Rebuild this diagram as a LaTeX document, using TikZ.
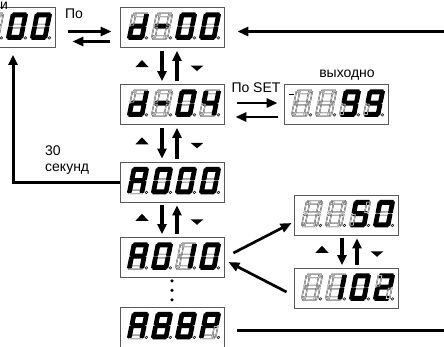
\documentclass[tikz,border=0pt]{standalone}
\usepackage{fontspec}
\setmainfont{Liberation Sans}
\usetikzlibrary{arrows.meta,positioning,calc}

\tikzset{
  dispbox/.style={draw=black!65,line width=0.8pt,minimum width=104pt,minimum height=40pt,inner sep=0pt},
  segon/.style={fill=black,draw=black,line width=1.3pt,line join=round},
  segoff/.style={draw=black!85,line width=0.35pt,double=white,double distance=0.5pt},
  segdot/.style={draw=black,line width=0.5pt},
  bigflow/.style={line width=3pt},
  navarrow/.style={line width=3.3pt,-{Triangle[length=10pt,width=9pt]}},
  pairarrow/.style={line width=2.7pt,-{Triangle[length=11pt,width=9pt]}},
  note/.style={font=\fontsize{14}{16}\selectfont,inner sep=0pt}
}

\makeatletter
% one slanted seven segment digit: top left corner, lit segments
\newcommand\segdigit[2]{%
  \begin{scope}[shift={#1},xslant=0.2]
    \foreach \sg/\xa/\ya/\xb/\yb in {a/1.5/0/14.5/3.5,g/1.5/11.25/14.5/14.75,d/1.5/22.5/14.5/26,
        f/0/1.5/3.5/12,e/0/14/3.5/24.5,b/12.5/1.5/16/12,c/12.5/14/16/24.5}{%
      \expandafter\in@\expandafter{\sg}{#2}%
      \ifin@
        \filldraw[segon] (\xa,\ya) -- (\xb,\ya) -- (\xb,\yb) -- (\xa,\yb) -- cycle;
      \else
        \draw[segoff] (\xa,\ya) -- (\xb,\ya) -- (\xb,\yb) -- (\xa,\yb) -- cycle;
      \fi}
    \draw[segdot] (18.8,24.8) circle[radius=1.3pt];
  \end{scope}}
\makeatother

% four digits inside a display box
\newcommand\showdisp[5]{%
  \segdigit{($(#1.north west)+(13,6)$)}{#2}
  \segdigit{($(#1.north west)+(37,6)$)}{#3}
  \segdigit{($(#1.north west)+(61,6)$)}{#4}
  \segdigit{($(#1.north west)+(85,6)$)}{#5}}

% up/down arrows with the two small key marks between two boxes
\newcommand\navpair[3]{%
  \draw[navarrow] ([xshift=#3-10pt,yshift=-3pt]#1.south) -- ([xshift=#3-10pt,yshift=3pt]#2.north);
  \draw[navarrow] ([xshift=#3+5pt,yshift=3pt]#2.north) -- ([xshift=#3+5pt,yshift=-3pt]#1.south);
  \coordinate (mid) at ($(#1.south)!0.5!(#2.north)$);
  \fill ([xshift=#3-30pt,yshift=6pt]mid) -- ++(6.5,7) -- ++(-13,0) -- cycle;
  \fill ([xshift=#3+25pt,yshift=-5pt]mid) -- ++(6.5,-5.5) -- ++(-13,0) -- cycle;}

\begin{document}
\begin{tikzpicture}[x=1pt,y=-1pt]
  \useasboundingbox (0,0) rectangle (444,346);
  \fill[white] (0,0) rectangle (444,346);
  \clip (0,0) rectangle (444,346);

  % display boxes
  \node[dispbox] (d1) at (3,27.5) {};
  \node[dispbox] (d2) at (172,27.5) {};
  \node[dispbox] (d3) at (172,104.5) {};
  \node[dispbox] (d4) at (336,104.5) {};
  \node[dispbox] (d5) at (172,182) {};
  \node[dispbox] (d6) at (172,257.5) {};
  \node[dispbox] (d7) at (172,327) {};
  \node[dispbox] (d8) at (346,215) {};
  \node[dispbox] (d9) at (346,288.5) {};

  \showdisp{d1}{}{}{abcdef}{abcdef}
  \showdisp{d2}{bcdeg}{g}{abcdef}{abcdef}
  \showdisp{d3}{bcdeg}{g}{abcdef}{bcfg}
  \showdisp{d4}{}{}{abcdfg}{abcdfg}
  \showdisp{d5}{abcefg}{abcdef}{abcdef}{abcdef}
  \showdisp{d6}{abcefg}{abcdef}{bc}{abcdef}
  \showdisp{d7}{abcefg}{abcdefg}{abcdefg}{abefg}
  \showdisp{d8}{}{}{acdfg}{abcdef}
  \showdisp{d9}{}{bc}{abcdef}{abdeg}
  \draw[line width=0.8pt] ([xshift=5pt,yshift=-10.5pt]d4.north west) -- ++(5,0);

  % texts
  \node[note] (t0) at (4,6) {и};
  \node[note] (t1) at (74,14) {По};
  \node[note] (t2) at (256,88) {По SET};
  \node[note] (t3) at (347,75) {выходно};
  \node[note,align=left,anchor=west] (t4) at (45,160) {30\\секунд};

  % connectors
  \draw[pairarrow] ([xshift=13pt,yshift=-4pt]d1.east) -- ([xshift=-8pt,yshift=-4pt]d2.west);
  \draw[pairarrow] ([xshift=-10pt,yshift=-14pt]d2.west) -- ([xshift=17pt,yshift=-14pt]d1.east);
  \draw[pairarrow] ([xshift=13pt,yshift=1.5pt]d3.east) -- ([xshift=-6pt,yshift=1.5pt]d4.west);
  \draw[pairarrow] ([xshift=-6pt,yshift=-12.5pt]d4.west) -- ([xshift=11pt,yshift=-12.5pt]d3.east);

  \coordinate (topin) at (444,31.5);
  \coordinate (botout) at (444,330);
  \draw[bigflow,-{Triangle[length=11pt,width=9pt]}] (topin) -- ([xshift=13pt,yshift=-4pt]d2.east);
  \draw[bigflow] ([xshift=13pt,yshift=-3pt]d7.east) -- (botout);
  \draw[bigflow,-{Triangle[length=10pt,width=9pt]}] (d5.west) -| ([xshift=10pt,yshift=-7pt]d1.south);

  \navpair{d2}{d3}{0pt}
  \navpair{d3}{d5}{0pt}
  \navpair{d5}{d6}{0pt}
  \navpair{d8}{d9}{6pt}

  \draw[pairarrow] ([xshift=9pt,yshift=4.5pt]d6.east) -- ([xshift=-2pt,yshift=-8pt]d8.west);
  \draw[pairarrow] ([xshift=-7pt,yshift=-3.5pt]d9.west) -- ([xshift=4pt,yshift=-4.5pt]d6.east);

  \foreach \dy in {3,12.5,22}
    \fill ([yshift=-\dy pt]d6.south) circle[radius=1.8pt];
\end{tikzpicture}
\end{document}
